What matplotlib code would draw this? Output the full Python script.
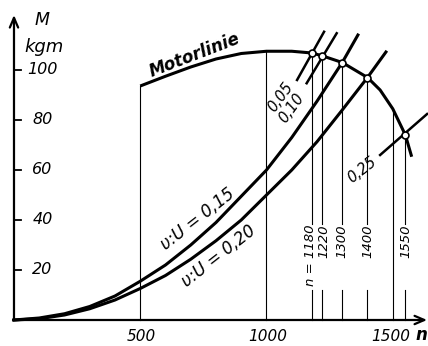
import matplotlib
matplotlib.use('Agg')
import matplotlib.pyplot as plt

# Motorlinie (engine torque curve), kgm over rpm
motor_n = [500, 600, 700, 800, 900, 1000, 1100, 1180, 1220, 1300, 1400, 1450, 1500, 1550, 1575]
motor_M = [93.6, 97.5, 101.2, 104.4, 106.6, 107.5, 107.5, 106.8, 105.7, 103.0, 97.0, 92.0, 84.5, 74.0, 65.3]

# load curves v:U = 0,15 and v:U = 0,20
load15_n = [0, 100, 200, 300, 400, 500, 600, 700, 800, 900, 1000, 1100, 1200, 1300, 1362]
load15_M = [0, 0.8, 2.5, 5.4, 9.6, 15.5, 22, 30, 39, 49.5, 60, 73, 87.5, 103, 114]
load20_n = [0, 100, 200, 300, 400, 500, 600, 700, 800, 900, 1000, 1100, 1200, 1300, 1400, 1473]
load20_M = [0, 0.5, 2, 4.5, 8, 12.6, 17.8, 24.3, 31.7, 40, 50, 60, 71.3, 84, 97, 107.2]

# short pieces of the other load lines near the motor curve
seg_labels = ['0,05', '0,10', '0,25']
seg_n = [[1121, 1228], [1159, 1278], [1450, 1636]]
seg_M = [[96.0, 115.3], [94.7, 114.7], [66.0, 82.4]]

# operating points
op_n = [1180, 1220, 1300, 1400, 1550]
op_M = [106.8, 105.7, 103.0, 97.0, 74.0]
op_labels = ['n = 1180', '1220', '1300', '1400', '1550']

yticks = [20, 40, 60, 80, 100]
xticks = [500, 1000, 1500]

fig = plt.figure(figsize=(4.28, 3.46), dpi=100)
ax = fig.add_axes([0, 0, 1, 1])
ax.set_xlim(-55.4, 1639.6)
ax.set_ylim(-10.4, 128)
ax.axis('off')

font = dict(style='italic', family='DejaVu Sans', color='black')

# axes with arrows
ax.annotate('', xy=(0, 122), xytext=(0, 0),
            arrowprops=dict(arrowstyle='->,head_length=0.7,head_width=0.3', lw=1.6,
                            color='black', shrinkA=0, shrinkB=0))
ax.annotate('', xy=(1636, 0), xytext=(-4, 0),
            arrowprops=dict(arrowstyle='->,head_length=0.7,head_width=0.3', lw=1.6,
                            color='black', shrinkA=0, shrinkB=0))
ax.text(112, 120, 'M', fontsize=12.5, ha='center', va='center', **font)
ax.text(118, 109, 'kgm', fontsize=13, ha='center', va='center', **font)
ax.text(1614, -6, 'n', fontsize=12, ha='center', va='center', fontweight='bold', **font)

for v in yticks:
    ax.plot([0, 28], [v, v], color='black', lw=1.3)
    ax.text(113, v, str(v), fontsize=11.5, ha='center', va='center', **font)
for v in xticks:
    ax.text(v + 5 if v < 1500 else v - 8, -6.5, str(v), fontsize=11,
            ha='center', va='center', **font)

# thin verticals
ax.plot([500, 500], [0, motor_M[0]], color='black', lw=0.8)
ax.plot([1000, 1000], [0, motor_M[5]], color='black', lw=0.8)
ax.plot([1500, 1500], [0, motor_M[12]], color='black', lw=0.8)
nudge = [-4, 6, 0, 0, 0]
for n, m, lab, d in zip(op_n, op_M, op_labels, nudge):
    ax.plot([n, n], [0, 12], color='black', lw=0.8)
    ax.plot([n, n], [38.4, m], color='black', lw=0.8)
    ax.text(n + d, 38.0, lab, rotation=90, fontsize=9.5, ha='center', va='top', **font)

# curves
ax.plot(motor_n, motor_M, color='black', lw=2.2, solid_capstyle='butt')
ax.plot(load15_n, load15_M, color='black', lw=2.2)
ax.plot(load20_n, load20_M, color='black', lw=2.2)
for n, m in zip(seg_n, seg_M):
    ax.plot(n, m, color='black', lw=1.8)

ax.plot(op_n, op_M, 'o', ms=5, mfc='white', mec='black', mew=1.2, zorder=5)

ax.text(717, 106, 'Motorlinie', rotation=21, fontsize=12, fontweight='bold',
        ha='center', va='center', **font)
ax.text(727, 40.5, 'υ:U = 0,15', rotation=38, fontsize=12,
        ha='center', va='center', **font)
ax.text(810, 25.5, 'υ:U = 0,20', rotation=38, fontsize=12,
        ha='center', va='center', **font)
ax.text(1056, 89, seg_labels[0], rotation=54, fontsize=10.5, ha='center', va='center', **font)
ax.text(1099, 84.8, seg_labels[1], rotation=54, fontsize=10.5, ha='center', va='center', **font)
ax.text(1380, 60, seg_labels[2], rotation=38, fontsize=10.5, ha='center', va='center', **font)

fig.savefig('out.png', dpi=100)
